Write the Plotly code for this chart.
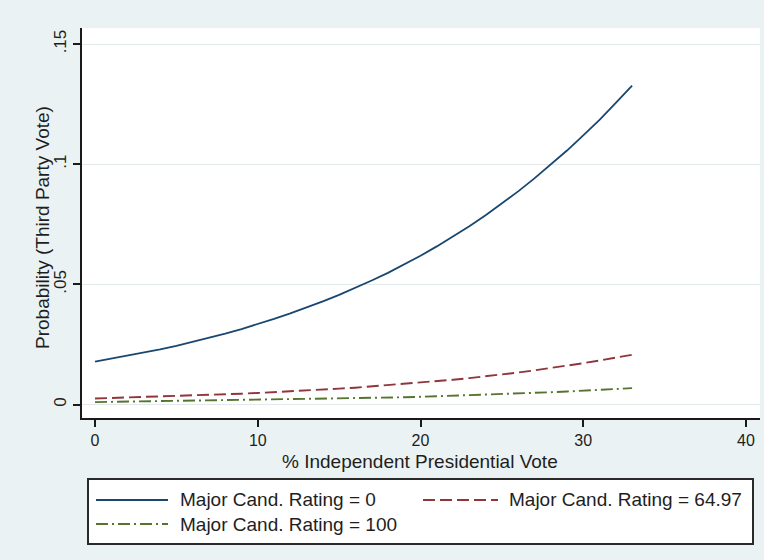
import plotly.graph_objects as go

# ---------------- data ----------------
indep_vote = list(range(0, 34))

prob_rating_0 = [0.0178, 0.0190, 0.0202, 0.0215, 0.0229, 0.0244, 0.0260, 0.0277, 0.0295, 0.0314,
                 0.0334, 0.0356, 0.0379, 0.0403, 0.0429, 0.0456, 0.0485, 0.0516, 0.0548, 0.0583,
                 0.0619, 0.0658, 0.0699, 0.0742, 0.0788, 0.0836, 0.0887, 0.0941, 0.0997, 0.1057,
                 0.1120, 0.1185, 0.1255, 0.1327]

prob_rating_6497 = [0.0025, 0.0027, 0.0028, 0.0030, 0.0032, 0.0035, 0.0037, 0.0039, 0.0042, 0.0045,
                    0.0048, 0.0051, 0.0054, 0.0058, 0.0062, 0.0066, 0.0070, 0.0075, 0.0080, 0.0085,
                    0.0091, 0.0097, 0.0103, 0.0110, 0.0117, 0.0125, 0.0133, 0.0142, 0.0151, 0.0161,
                    0.0172, 0.0183, 0.0195, 0.0207]

prob_rating_100 = [0.0010, 0.0011, 0.0011, 0.0012, 0.0013, 0.0013, 0.0014, 0.0015, 0.0016, 0.0017,
                   0.0018, 0.0019, 0.0020, 0.0021, 0.0023, 0.0024, 0.0025, 0.0027, 0.0028, 0.0030,
                   0.0032, 0.0034, 0.0036, 0.0038, 0.0040, 0.0043, 0.0045, 0.0048, 0.0051, 0.0054,
                   0.0057, 0.0060, 0.0064, 0.0068]

series_names = ["Major Cand. Rating = 0", "Major Cand. Rating = 64.97", "Major Cand. Rating = 100"]

x_tick_vals = [0, 10, 20, 30, 40]
x_tick_text = ["0", "10", "20", "30", "40"]
y_tick_vals = [0, 0.05, 0.10, 0.15]
y_tick_text = ["0", ".05", ".1", ".15"]

x_title = "% Independent Presidential Vote"
y_title = "Probability (Third Party Vote)"

# ---------------- styling ----------------
W, H = 764, 560
ML, MR, MT, MB = 82, 4, 28, 142
PW, PH = W - ML - MR, H - MT - MB

NAVY, MAROON, GREEN = "#1a476f", "#90353b", "#55752f"
BG = "#eaf2f3"
FONT = "Liberation Sans, Arial, sans-serif"
TXT = "#1e1e1e"
RED_DASH = "12px,5px"
GREEN_DASH = "12px,4px,2px,4px"


def px_x(px):
    return (px - ML) / PW


def px_y(py):
    return (H - MB - py) / PH


fig = go.Figure()
fig.add_trace(go.Scatter(x=indep_vote, y=prob_rating_0, mode="lines", name=series_names[0],
                         line=dict(color=NAVY, width=1.8), showlegend=False))
fig.add_trace(go.Scatter(x=indep_vote, y=prob_rating_6497, mode="lines", name=series_names[1],
                         line=dict(color=MAROON, width=1.9, dash=RED_DASH), showlegend=False))
fig.add_trace(go.Scatter(x=indep_vote, y=prob_rating_100, mode="lines", name=series_names[2],
                         line=dict(color=GREEN, width=1.9, dash=GREEN_DASH), showlegend=False))

fig.update_layout(
    template="none",
    width=W, height=H,
    margin=dict(l=ML, r=MR, t=MT, b=MB, pad=0, autoexpand=False),
    paper_bgcolor=BG, plot_bgcolor="white",
    font=dict(family=FONT, color=TXT, size=17),
    showlegend=False,
)

fig.update_xaxes(
    automargin=False,
    range=[-0.8, 40.86], tickmode="array", tickvals=x_tick_vals, ticktext=x_tick_text,
    showgrid=False, zeroline=False, showline=True, linecolor="#1a1a1a", linewidth=1.6,
    ticks="outside", ticklen=7, tickwidth=1.6, tickcolor="#1a1a1a",
    tickfont=dict(size=16, family=FONT, color=TXT),
)
fig.update_yaxes(
    automargin=False,
    range=[-0.00562, 0.1567], tickmode="array", tickvals=y_tick_vals, ticktext=y_tick_text,
    tickangle=-90, showgrid=True, gridcolor="#e3e9eb", gridwidth=1, zeroline=False,
    showline=True, linecolor="#1a1a1a", linewidth=1.6,
    ticks="outside", ticklen=7, tickwidth=1.6, tickcolor="#1a1a1a",
    tickfont=dict(size=17, family=FONT, color=TXT),
)

# axis titles
fig.add_annotation(text=x_title, xref="paper", yref="paper", x=px_x(420), y=px_y(461),
                   showarrow=False, borderpad=0, font=dict(size=19, family=FONT, color=TXT),
                   xanchor="center", yanchor="middle")
fig.add_annotation(text=y_title, xref="paper", yref="paper", x=px_x(43), y=px_y(228),
                   showarrow=False, textangle=-90, font=dict(size=19, family=FONT, color=TXT),
                   xanchor="center", yanchor="middle")

# legend (box, samples, labels)
fig.add_shape(type="rect", xref="paper", yref="paper",
              x0=px_x(88), x1=px_x(753), y0=px_y(544), y1=px_y(479),
              line=dict(color="#2a2a2a", width=2), fillcolor="white", layer="above")

legend_rows = [
    (series_names[0], NAVY, "solid", 1.8, 96, 168, 178, 500),
    (series_names[1], MAROON, RED_DASH, 1.9, 423, 498, 507, 500),
    (series_names[2], GREEN, GREEN_DASH, 1.9, 96, 168, 178, 524),
]
for name, col, dash, lw, lx0, lx1, tx, ry in legend_rows:
    fig.add_shape(type="line", xref="paper", yref="paper",
                  x0=px_x(lx0), x1=px_x(lx1), y0=px_y(ry), y1=px_y(ry),
                  line=dict(color=col, width=lw, dash=dash), layer="above")
    fig.add_annotation(text=name, xref="paper", yref="paper", x=px_x(tx), y=px_y(ry),
                       showarrow=False, xanchor="left", yanchor="middle",
                       font=dict(size=19, family=FONT, color=TXT))

fig.write_html("out.html", config={"displayModeBar": False},
               post_script="document.body.style.margin='0px';document.body.style.padding='0px';")
